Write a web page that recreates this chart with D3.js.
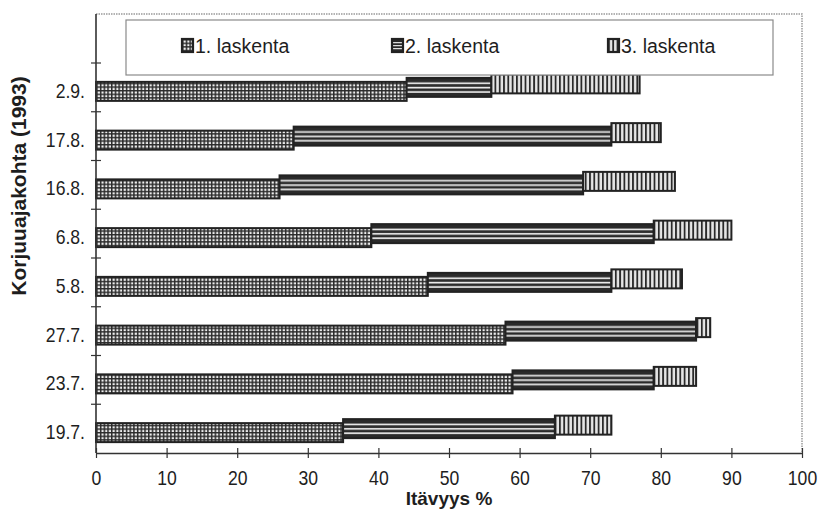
<!DOCTYPE html>
<html>
<head>
<meta charset="utf-8">
<script src="https://cdn.jsdelivr.net/npm/d3@7"></script>
<style>
  html, body { margin: 0; padding: 0; background: #fff; }
  svg { display: block; font-family: "Liberation Sans", Arial, Helvetica, sans-serif; }
</style>
</head>
<body>
<svg id="chart" width="818" height="509"></svg>
<script>
// Harvest dates, bottom to top
const categories = ["19.7.", "23.7.", "27.7.", "5.8.", "6.8.", "16.8.", "17.8.", "2.9."];
const seriesNames = ["1. laskenta", "2. laskenta", "3. laskenta"];
// Germination gained at each count (%), stacked
const laskenta1 = [35, 59, 58, 47, 39, 26, 28, 44];
const laskenta2 = [30, 20, 27, 26, 40, 43, 45, 12];
const laskenta3 = [8, 6, 2, 10, 11, 13, 7, 21];
const xTicks = [0, 10, 20, 30, 40, 50, 60, 70, 80, 90, 100];

const rows = categories.map((c, i) => ({
  date: c,
  "1. laskenta": laskenta1[i],
  "2. laskenta": laskenta2[i],
  "3. laskenta": laskenta3[i]
}));

const svg = d3.select("#chart");
const plotL = 96, plotR = 802, plotT = 14, plotB = 453, bandTop = 63;
const font = "'Liberation Sans', Arial, sans-serif";
const narrow = 0.88;   // condensed look for tick labels

const x = d3.scaleLinear().domain([0, 100]).range([plotL, plotR]);
const y = d3.scaleBand().domain(categories).range([plotB, bandTop]);
const bw = y.bandwidth();
const barH = 19;
const shift = [4, 0, -3.5];

// Fill patterns
const defs = svg.append("defs");
const dark = "#222";

const pGrid = defs.append("pattern").attr("id", "pat0")
  .attr("patternUnits", "userSpaceOnUse").attr("width", 3.7).attr("height", 3.6);
pGrid.append("rect").attr("width", 3.7).attr("height", 3.6).attr("fill", "#eeeeee");
pGrid.append("rect").attr("width", 1.5).attr("height", 3.6).attr("fill", "#2a2a2a");
pGrid.append("rect").attr("width", 3.7).attr("height", 1.4).attr("fill", "#2a2a2a");

const pHor = defs.append("pattern").attr("id", "pat1")
  .attr("patternUnits", "objectBoundingBox").attr("patternContentUnits", "objectBoundingBox")
  .attr("width", 1).attr("height", 1);
pHor.append("rect").attr("width", 1).attr("height", 1).attr("fill", "#2a2a2a");
[0.24, 0.47, 0.70].forEach(f => pHor.append("rect").attr("y", f).attr("width", 1).attr("height", 0.085).attr("fill", "#f4f4f4"));

const pVer = defs.append("pattern").attr("id", "pat2")
  .attr("patternUnits", "userSpaceOnUse").attr("width", 4.3).attr("height", 4);
pVer.append("rect").attr("width", 4.3).attr("height", 4).attr("fill", "#e6e6e6");
pVer.append("rect").attr("width", 1.8).attr("height", 4).attr("fill", "#2a2a2a");

// Plot frame: dotted top and right edges
svg.append("path")
  .attr("d", `M${plotL},${plotT}H${plotR}V${plotB}`)
  .attr("fill", "none").attr("stroke", "#9a9a9a").attr("stroke-width", 1.5)
  .attr("stroke-dasharray", "1.5,1");

// Stacked bars
const stack = d3.stack().keys(seriesNames)(rows);
stack.forEach((layer, si) => {
  svg.append("g").selectAll("rect").data(layer).join("rect")
    .attr("x", d => x(d[0]))
    .attr("width", d => x(d[1]) - x(d[0]))
    .attr("y", d => y(d.data.date) + bw / 2 - barH / 2 + shift[si])
    .attr("height", barH)
    .attr("fill", `url(#pat${si})`)
    .attr("stroke", dark).attr("stroke-width", 2);
});

// X axis
const xAxis = svg.append("g").attr("transform", `translate(0,${plotB})`)
  .call(d3.axisBottom(x).tickValues(xTicks).tickFormat(d3.format("d")).tickSize(0).tickPadding(18));
xAxis.select(".domain").attr("stroke", "#333").attr("stroke-width", 1.6);
xAxis.selectAll(".tick line").attr("y1", -5).attr("y2", 5).attr("stroke", "#333").attr("stroke-width", 1.2);
xAxis.selectAll("text").attr("font-size", 20).attr("fill", "#1e1e1e")
  .attr("font-family", font).attr("transform", `scale(${narrow},1)`);

// Y axis: labels at band centres, ticks between bands
const yAxis = svg.append("g").attr("transform", `translate(${plotL},0)`)
  .call(d3.axisLeft(y).tickSize(0).tickPadding(11));
yAxis.select(".domain").remove();
yAxis.selectAll("text").attr("font-size", 20).attr("fill", "#1e1e1e")
  .attr("font-family", font)
  .attr("x", -11 / narrow)
  .attr("transform", `translate(0,4) scale(${narrow},1)`);
svg.append("line").attr("x1", plotL).attr("x2", plotL).attr("y1", plotT).attr("y2", plotB)
  .attr("stroke", "#333").attr("stroke-width", 1.6);
const bounds = categories.map(c => y(c));
svg.append("g").selectAll("line").data(bounds).join("line")
  .attr("x1", plotL - 5).attr("x2", plotL + 5)
  .attr("y1", d => d).attr("y2", d => d)
  .attr("stroke", "#333").attr("stroke-width", 1.2);

// Axis titles
svg.append("text").attr("x", (plotL + plotR) / 2).attr("y", 505)
  .attr("text-anchor", "middle").attr("font-weight", "bold").attr("font-size", 19)
  .attr("font-family", font)
  .attr("fill", "#1e1e1e").text("Itävyys %");
svg.append("text").attr("transform", "translate(26,186) rotate(-90)")
  .attr("text-anchor", "middle").attr("font-weight", "bold").attr("font-size", 21)
  .attr("font-family", font)
  .attr("fill", "#1e1e1e").text("Korjuuajakohta (1993)");

// Legend
svg.append("rect").attr("x", 126).attr("y", 20).attr("width", 647).attr("height", 55)
  .attr("fill", "#fff").attr("stroke", "#8a8a8a").attr("stroke-width", 1.2);
const legendX = [182, 392, 608];
const lg = svg.append("g").selectAll("g").data(seriesNames).join("g")
  .attr("transform", (d, i) => `translate(${legendX[i]},39)`);
lg.append("rect").attr("width", 11).attr("height", 13)
  .attr("fill", (d, i) => `url(#pat${i})`)
  .attr("stroke", dark).attr("stroke-width", 2.2);
lg.append("text").attr("x", 13).attr("y", 14).attr("font-size", 19.5)
  .attr("font-family", font)
  .attr("fill", "#1e1e1e").text(d => d);
</script>
</body>
</html>
